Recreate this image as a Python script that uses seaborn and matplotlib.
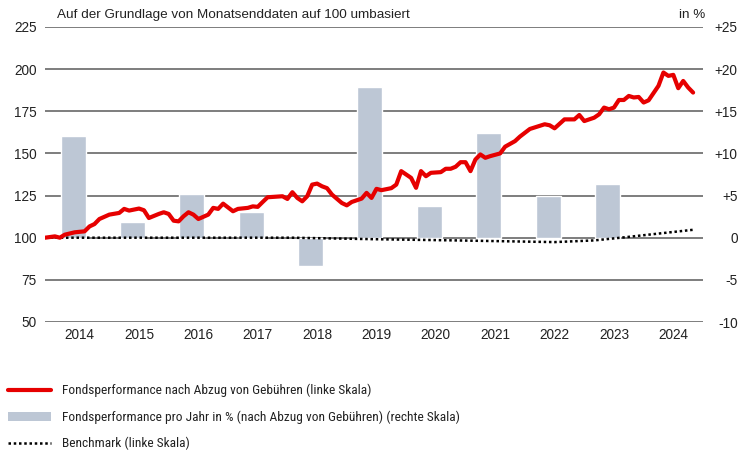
import matplotlib
matplotlib.use("Agg")
import matplotlib.pyplot as plt
import seaborn as sns
from matplotlib import font_manager as fm
from matplotlib.lines import Line2D
from matplotlib.patches import Patch

# ---------------- data ----------------
fund_dates = ["2013-11", "2014-01", "2014-02", "2014-03", "2014-05", "2014-07", "2014-08", "2014-09",
              "2014-10", "2014-12", "2015-02", "2015-03", "2015-04", "2015-06", "2015-07", "2015-08",
              "2015-10", "2015-11", "2015-12", "2016-01", "2016-02", "2016-03", "2016-04", "2016-05",
              "2016-06", "2016-08", "2016-09", "2016-10", "2016-11", "2017-01", "2017-02", "2017-04",
              "2017-05", "2017-06", "2017-07", "2017-08", "2017-09", "2017-11", "2017-12", "2018-01",
              "2018-02", "2018-03", "2018-04", "2018-05", "2018-06", "2018-07", "2018-08", "2018-09",
              "2018-11", "2018-12", "2019-01", "2019-03", "2019-04", "2019-05", "2019-06", "2019-07",
              "2019-09", "2019-10", "2019-11", "2020-01", "2020-02", "2020-03", "2020-04", "2020-05",
              "2020-07", "2020-08", "2020-09", "2020-10", "2020-11", "2020-12", "2021-01", "2021-02",
              "2021-03", "2021-04", "2021-05", "2021-07", "2021-08", "2021-10", "2021-11", "2022-01",
              "2022-04", "2022-05", "2022-06", "2022-08", "2022-10", "2022-11", "2022-12", "2023-02",
              "2023-03", "2023-04", "2023-05", "2023-06", "2023-07", "2023-08", "2023-09", "2023-10",
              "2023-11", "2023-12", "2024-01", "2024-03", "2024-04", "2024-05", "2024-06", "2024-07",
              "2024-08", "2024-09", "2024-10"]
fund_values = [100.0, 100.8, 100.0, 101.8, 103.2, 103.8, 106.7, 108.1,
               111.1, 113.7, 114.7, 117.1, 116.1, 117.3, 116.3, 111.7,
               114.1, 115.1, 114.1, 110.1, 109.7, 112.7, 115.1, 113.7,
               111.1, 113.7, 117.7, 117.1, 120.2, 115.7, 117.1, 117.7,
               118.6, 118.3, 121.2, 124.0, 124.2, 124.6, 123.0, 127.0,
               123.6, 121.6, 124.6, 131.5, 132.1, 130.5, 129.4, 125.6,
               120.6, 119.2, 121.2, 123.2, 126.6, 123.6, 129.0, 128.2,
               129.4, 131.5, 139.5, 135.5, 129.6, 139.5, 136.5, 138.5,
               138.9, 140.9, 140.9, 142.1, 144.8, 144.8, 139.5, 146.4,
               149.4, 147.4, 148.4, 150.0, 154.0, 157.3, 160.0, 164.5,
               167.3, 166.7, 164.9, 170.2, 170.2, 172.8, 169.2, 171.2,
               173.2, 177.2, 176.2, 177.2, 181.7, 181.7, 184.1, 183.2,
               183.5, 180.2, 181.5, 190.1, 198.0, 196.0, 196.6, 188.7,
               193.0, 189.1, 186.1]

bench_dates = ["2013-11", "2018-01", "2019-06", "2020-10", "2022-06", "2023-02", "2023-08", "2024-10"]
bench_values = [100.0, 100.0, 99.1, 98.4, 97.4, 98.4, 100.2, 104.7]

bar_years = [2014, 2015, 2016, 2017, 2018, 2019, 2020, 2021, 2022, 2023]
bar_values = [12.1, 1.9, 5.2, 3.1, -3.4, 17.9, 3.8, 12.4, 5.0, 6.4]

year_labels = [2014, 2015, 2016, 2017, 2018, 2019, 2020, 2021, 2022, 2023, 2024]
left_ticks = [50, 75, 100, 125, 150, 175, 200, 225]
right_ticks = [-10, -5, 0, 5, 10, 15, 20, 25]
right_tick_labels = ["-10", "-5", "0", "+5", "+10", "+15", "+20", "+25"]

title_text = "Auf der Grundlage von Monatsenddaten auf 100 umbasiert"
unit_text = "in %"
legend_labels = ["Fondsperformance nach Abzug von Gebühren (linke Skala)",
                 "Fondsperformance pro Jahr in % (nach Abzug von Gebühren) (rechte Skala)",
                 "Benchmark (linke Skala)"]

# ---------------- style ----------------
RED = "#E60000"
BAR = "#BDC7D5"
GRID = "#5a5a5a"
TXT = "#222222"

sns.set_style("white")
names = {f.name for f in fm.fontManager.ttflist}


def pick(prefs):
    for p in prefs:
        if p in names:
            return p
    return "DejaVu Sans"


main_font = pick(["Liberation Sans", "Arimo", "DejaVu Sans"])
cond_font = pick(["Roboto Condensed", "Asap Condensed", "Archivo Narrow",
                  "Liberation Sans Narrow", "Barlow Condensed", "Liberation Sans"])
plt.rcParams["font.family"] = [main_font, "DejaVu Sans"]
plt.rcParams["text.color"] = TXT


def month_end(s):
    y, m = map(int, s.split("-"))
    return y + m / 12.0


fund_x = [month_end(d) for d in fund_dates]
bench_x = [month_end(d) for d in bench_dates]
bar_x = [y + 0.39 for y in bar_years]

fig = plt.figure(figsize=(7.48, 4.5), dpi=100)
ax = fig.add_axes([45 / 748, 1 - 322 / 450, 658 / 748, 295 / 450])
ax2 = ax.twinx()

# bars on right axis
sns.barplot(x=bar_x, y=bar_values, native_scale=True, width=0.42, color=BAR,
            saturation=1, errorbar=None, orient="x", ax=ax2, zorder=2)
ax2.set_ylim(-10, 25)
ax2.set_yticks(right_ticks)
ax2.set_yticklabels(right_tick_labels)
ax2.yaxis.grid(True, color=GRID, lw=1.1)
ax2.xaxis.grid(False)
ax2.set_axisbelow(True)
ax2.set_ylabel("")

# lines on left axis
sns.lineplot(x=bench_x, y=bench_values, color="black", lw=1.8,
             linestyle=(0, (1, 1.1)), ax=ax, zorder=3)
sns.lineplot(x=fund_x, y=fund_values, color=RED, lw=3.0, ax=ax, zorder=4)
ax.set_ylim(50, 225)
ax.set_yticks(left_ticks)
ax.set_xlim(2013 + 11 / 12, 2025.0)
ax.set_xticks([y + 0.5 for y in year_labels])
ax.set_xticklabels([str(y) for y in year_labels])
ax.grid(False)
ax.set_zorder(ax2.get_zorder() + 1)
ax.patch.set_visible(False)

for a in (ax, ax2):
    for sp in a.spines.values():
        sp.set_visible(False)

ax.tick_params(axis="y", length=0, pad=6, labelsize=9.8, colors=TXT)
ax.tick_params(axis="x", length=0, pad=4.5, labelsize=9.8, colors=TXT)
ax2.tick_params(axis="y", length=0, pad=25, labelsize=9.8, colors=TXT)
for lab in ax2.get_yticklabels():
    lab.set_horizontalalignment("right")

fig.text(57 / 748, 1 - 15 / 450, title_text, ha="left", va="center", fontsize=9.7)
fig.text(705 / 748, 1 - 15 / 450, unit_text, ha="right", va="center", fontsize=9.7)

handles = [Line2D([], [], color=RED, lw=3.0),
           Patch(facecolor=BAR, edgecolor="none"),
           Line2D([], [], color="black", lw=1.8, linestyle=(0, (1, 1.1)))]
fig.legend(handles, legend_labels, loc="upper left", bbox_to_anchor=(8 / 748, 1 - 384 / 450),
           frameon=False, prop={"family": [cond_font, "DejaVu Sans"], "size": 9.6},
           handlelength=3.23, handletextpad=0.82,
           labelspacing=0.98, borderpad=0, borderaxespad=0)

fig.savefig("out.png", dpi=100)
